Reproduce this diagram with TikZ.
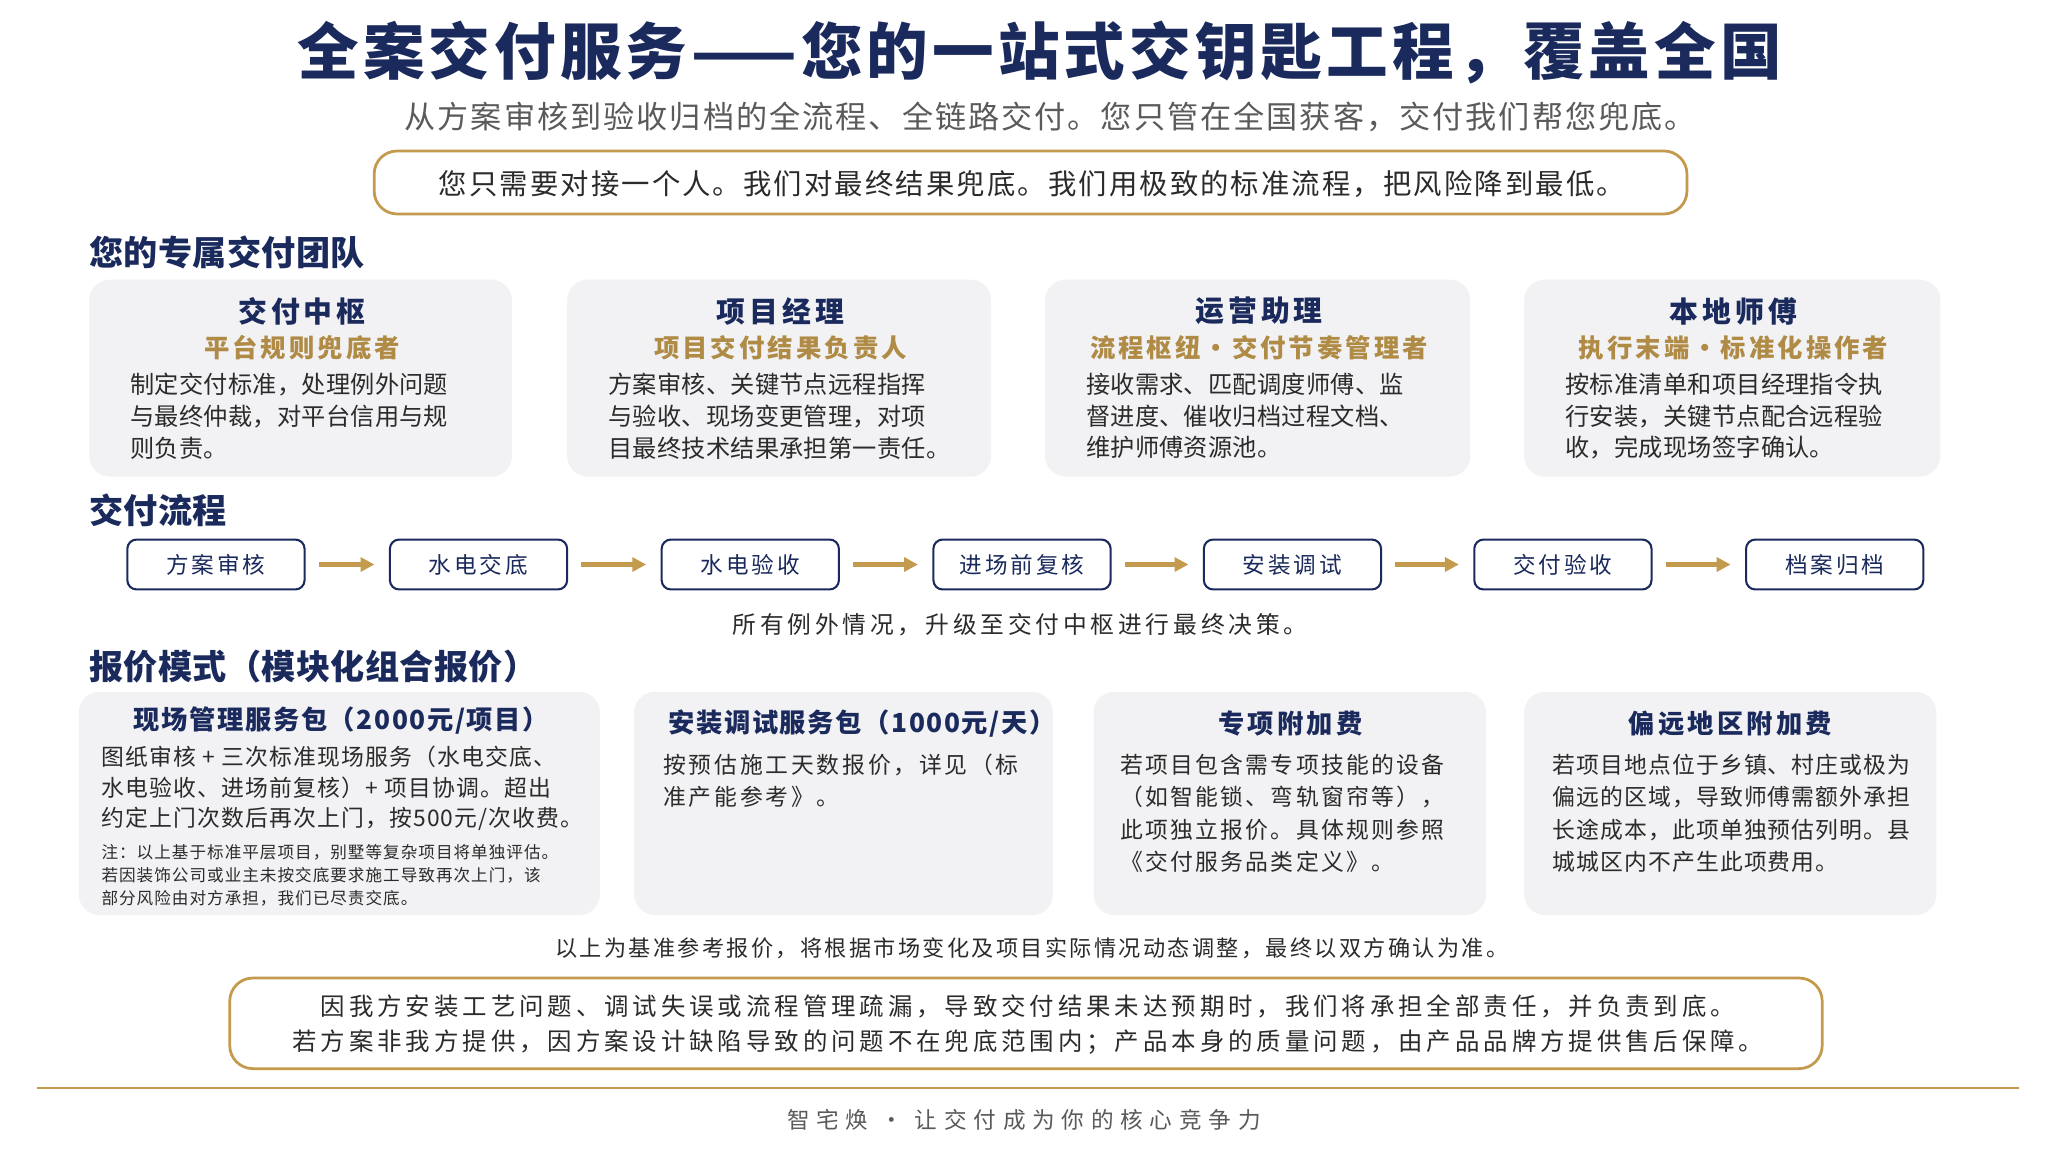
\documentclass[tikz,border=0pt]{standalone}
\usepackage{fontspec}
\setmainfont{Noto Sans CJK SC}
\usetikzlibrary{arrows.meta}
\definecolor{navy}{HTML}{1B2A5C}
\definecolor{gold}{HTML}{C49A4E}
\definecolor{txt}{HTML}{2B2B2B}
\definecolor{gry}{HTML}{5A5A5A}
\definecolor{card}{HTML}{F2F2F4}
\newcommand{\fz}[3]{\fontsize{#1}{#2}\selectfont\addfontfeature{LetterSpace=#3}}
\begin{document}
\begin{tikzpicture}[x=0.02cm,y=-0.02cm,
  goldbox/.style={draw=gold,line width=1.2pt,rounded corners=10pt,fill=white},
  cardbg/.style={fill=card,rounded corners=9pt,draw=none},
  sect/.style={anchor=west,text=navy,font=\bfseries\fz{14.8}{17}{1}},
  ctitle/.style={text=navy,font=\bfseries\fz{12.5}{15}{14}},
  ptitle/.style={text=navy,font=\bfseries\fz{11.4}{14}{6}},
  csub/.style={text=gold!90!black,font=\bfseries\fz{11}{13}{12}},
  cbody/.style={anchor=north west,align=left,text=txt,font=\fz{10.5}{13.7}{1},inner sep=0pt},
  pbody/.style={anchor=north west,align=left,text=txt,inner sep=0pt},
  flow/.style={draw=navy,line width=0.9pt,rounded corners=4pt,minimum width=135*0.02cm,minimum height=38*0.02cm,text=navy,font=\fz{9.8}{12}{13}},
  farr/.style={-{Triangle[length=6pt,width=6pt]},draw=gold,line width=2pt}]
\useasboundingbox (0,0) rectangle (1560,878);
\fill[white] (0,0) rectangle (1560,878);
\node[text=navy,font=\bfseries\fz{26.7}{30}{6.6}] (title) at (792,40) {全案交付服务——您的一站式交钥匙工程，覆盖全国};
\node[text=gry,font=\fz{13.5}{16}{6.5}] (sub) at (800,89) {从方案审核到验收归档的全流程、全链路交付。您只管在全国获客，交付我们帮您兜底。};
\draw[goldbox] (285,115) rectangle (1285,163);
\node[text=txt,font=\fz{12.3}{15}{7.4}] (promise) at (786,140) {您只需要对接一个人。我们对最终结果兜底。我们用极致的标准流程，把风险降到最低。};

\node[sect] (s1) at (62,192) {您的专属交付团队};
% team cards
\foreach \xa/\xb/\t/\s/\b [count=\i] in {
 68/390/交付中枢/平台规则兜底者/{制定交付标准，处理例外问题\\与最终仲裁，对平台信用与规\\则负责。},
 432/755/项目经理/项目交付结果负责人/{方案审核、关键节点远程指挥\\与验收、现场变更管理，对项\\目最终技术结果承担第一责任。},
 796/1120/运营助理/流程枢纽·交付节奏管理者/{接收需求、匹配调度师傅、监\\督进度、催收归档过程文档、\\维护师傅资源池。},
 1161/1478/本地师傅/执行末端·标准化操作者/{按标准清单和项目经理指令执\\行安装，关键节点配合远程验\\收，完成现场签字确认。}}{
  \fill[cardbg] (\xa,213) rectangle (\xb,363);
  \node[ctitle] (tt\i) at ({(\xa+\xb)/2+1},237) {\t};
  \node[csub] (ts\i) at ({(\xa+\xb)/2+1},265) {\s};
  \node[cbody] (tb\i) at (\xa+31,284) {\b};
}

\node[sect] (s2) at (62,389) {交付流程};
\foreach \x/\t [count=\i] in {164.5/方案审核,364.5/水电交底,571.5/水电验收,778.5/进场前复核,984.5/安装调试,1190.5/交付验收,1397.5/档案归档}{
  \node[flow] (f\i) at (\x,430) {\t};
}
\foreach \a/\b in {1/2,2/3,3/4,4/5,5/6,6/7}{
  \draw[farr] ([xshift=10*0.02cm]f\a.east) -- ([xshift=-11*0.02cm]f\b.west);
}
\node[text=txt,font=\fz{10.3}{12}{16}] (exc) at (777,476) {所有例外情况，升级至交付中枢进行最终决策。};

\node[sect] (s3) at (62,508) {报价模式（模块化组合报价）};
\fill[cardbg] (60,527) rectangle (457,697);
\fill[cardbg] (483,527) rectangle (802,697);
\fill[cardbg] (833,527) rectangle (1132,697);
\fill[cardbg] (1161,527) rectangle (1475,697);
\node[ptitle] (p1) at (260,549) {现场管理服务包（2000元/项目）};
\node[pbody,font=\fz{9.9}{13.2}{5}] (p1b) at (77,568) {图纸审核 + 三次标准现场服务（水电交底、\\水电验收、进场前复核）+ 项目协调。超出\\约定上门次数后再次上门，按500元/次收费。};
\node[pbody,font=\fz{7.2}{9.9}{6}] (p1n) at (77,643) {注：以上基于标准平层项目，别墅等复杂项目将单独评估。\\若因装饰公司或业主未按交底要求施工导致再次上门，该\\部分风险由对方承担，我们已尽责交底。};
\node[ptitle,anchor=west] (p2) at (503,551) {安装调试服务包（1000元/天）};
\node[pbody,font=\fz{9.9}{13.7}{12}] (p2b) at (505,574) {按预估施工天数报价，详见（标\\准产能参考》。};
\node[ptitle,font=\bfseries\fz{11.4}{14}{12}] (p3) at (983,551) {专项附加费};
\node[pbody,font=\fz{9.9}{14.1}{10}] (p3b) at (853,574) {若项目包含需专项技能的设备\\（如智能锁、弯轨窗帘等），\\此项独立报价。具体规则参照\\《交付服务品类定义》。};
\node[ptitle,font=\bfseries\fz{11.4}{14}{12}] (p4) at (1318,551) {偏远地区附加费};
\node[pbody,font=\fz{9.9}{14.1}{5}] (p4b) at (1182,574) {若项目地点位于乡镇、村庄或极为\\偏远的区域，导致师傅需额外承担\\长途成本，此项单独预估列明。县\\城城区内不产生此项费用。};

\node[text=txt,font=\fz{9.6}{12}{10.6}] (ref) at (786,722) {以上为基准参考报价，将根据市场变化及项目实际情况动态调整，最终以双方确认为准。};
\draw[goldbox] (175,745) rectangle (1388,814);
\node[text=txt,font=\fz{10.6}{15.3}{16},align=center] (resp) at (783,780.5) {因我方安装工艺问题、调试失误或流程管理疏漏，导致交付结果未达预期时，我们将承担全部责任，并负责到底。\\若方案非我方提供，因方案设计缺陷导致的问题不在兜底范围内；产品本身的质量问题，由产品品牌方提供售后保障。};
\coordinate (l1) at (28,829); \coordinate (l2) at (1538,829);
\draw[gold,line width=1pt] (l1) -- (l2);
\node[text=gry,font=\fz{9.8}{12}{30}] (foot) at (780,853) {智宅焕 · 让交付成为你的核心竞争力};
\end{tikzpicture}
\end{document}
